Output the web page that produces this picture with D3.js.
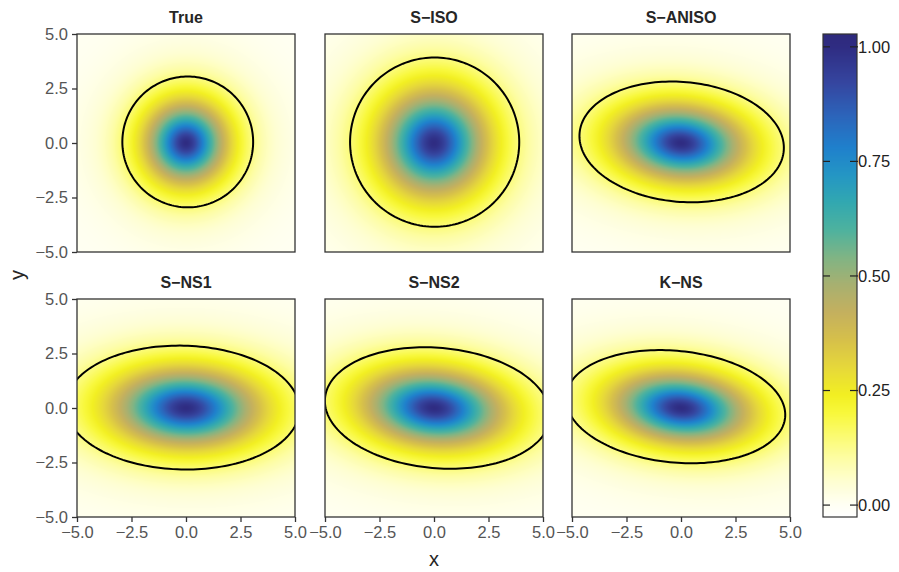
<!DOCTYPE html>
<html>
<head>
<meta charset="utf-8">
<script src="https://cdn.jsdelivr.net/npm/d3@7"></script>
<style>
body { margin: 0; background: #fff; }
svg { display: block; font-family: "Liberation Sans", Arial, sans-serif; }
</style>
</head>
<body>
<svg id="chart" width="899" height="572"></svg>
<script>
// panel titles
var titles = ["True", "S\u2212ISO", "S\u2212ANISO", "S\u2212NS1", "S\u2212NS2", "K\u2212NS"];
// kernel field (Matern 3/2 look): length scale along long / short axis, rotation in degrees
var lenLong = [1.51, 1.95, 2.37, 2.70, 2.61, 2.54];
var lenShort = [1.51, 1.95, 1.38, 1.43, 1.39, 1.29];
var fieldAngle = [0, 0, -5, -1.3, -5, -5.7];
// black contour: semi axes, rotation, centre
var ellA = [3.0, 3.88, 4.7, 5.36, 5.18, 5.05];
var ellB = [3.0, 3.88, 2.75, 2.84, 2.76, 2.56];
var ellAngle = [0, 0, -5, -1.3, -5, -5.7];
var ellCx = [0.08, 0.03, 0.03, -0.16, 0.16, -0.25];
var ellCy = [0.05, 0.04, 0.05, 0.02, 0.0, 0.06];
var axisTicks = [-5, -2.5, 0, 2.5, 5];
var cbarTicks = [0, 0.25, 0.5, 0.75, 1.0];
var cbarDomain = [-0.026, 1.028];
// colormap
var cmapStops = [-0.026, 0, 0.05, 0.1, 0.15, 0.2, 0.24, 0.3, 0.36, 0.42, 0.48, 0.54, 0.6, 0.66, 0.72, 0.78, 0.85, 0.92, 1.0, 1.028];
var cmapColors = ["#ffffff", "#fffff4", "#fefed2", "#fdfda6", "#fbfb72", "#f8f83c", "#f2ef22", "#e6d83a", "#d6c04a",
    "#c4b05e", "#a8b070", "#80b484", "#4eb29e", "#32a8b0", "#2496c4", "#1f80cc", "#2c64ba", "#3546a0", "#2f2c82", "#2e2a7c"];

var size = 218;
var colX = [77, 325, 572];
var rowY = [34, 299];

var svg = d3.select("#chart");
var color = d3.scaleLinear().domain(cmapStops).range(cmapColors).interpolate(d3.interpolateRgb).clamp(true);

var x = d3.scaleLinear().domain([-5, 5]).range([0, size]);
var y = d3.scaleLinear().domain([-5, 5]).range([size, 0]);
var fmt = d3.format(".1f");

var defs = svg.append("defs");
defs.append("clipPath").attr("id", "panelclip")
    .append("rect").attr("width", size).attr("height", size);

titles.forEach(function (t, k) {
    var col = k % 3, row = Math.floor(k / 3);
    var g = svg.append("g").attr("transform", "translate(" + colX[col] + "," + rowY[row] + ")");

    // heatmap into an offscreen canvas
    var canvas = document.createElement("canvas");
    canvas.width = size; canvas.height = size;
    var ctx = canvas.getContext("2d");
    var img = ctx.createImageData(size, size);
    var th = fieldAngle[k] * Math.PI / 180, c = Math.cos(th), s = Math.sin(th);
    for (var j = 0; j < size; j++) {
        var yy = y.invert(j + 0.5);
        for (var i = 0; i < size; i++) {
            var xx = x.invert(i + 0.5);
            var u = (xx * c + yy * s) / lenLong[k], w = (-xx * s + yy * c) / lenShort[k];
            var z = Math.sqrt(3 * (u * u + w * w));
            var v = (1 + z) * Math.exp(-z);
            var rgb = d3.rgb(color(v));
            var p = (j * size + i) * 4;
            img.data[p] = rgb.r; img.data[p + 1] = rgb.g; img.data[p + 2] = rgb.b; img.data[p + 3] = 255;
        }
    }
    ctx.putImageData(img, 0, 0);
    g.append("image").attr("width", size).attr("height", size)
        .attr("href", canvas.toDataURL());

    // contour
    var ea = ellAngle[k] * Math.PI / 180;
    var pts = d3.range(0, 361, 2).map(function (d) {
        var t = d * Math.PI / 180;
        var px = ellA[k] * Math.cos(t), py = ellB[k] * Math.sin(t);
        return [ellCx[k] + px * Math.cos(ea) - py * Math.sin(ea), ellCy[k] + px * Math.sin(ea) + py * Math.cos(ea)];
    });
    g.append("path").attr("clip-path", "url(#panelclip)")
        .attr("d", d3.line().x(function (d) { return x(d[0]); }).y(function (d) { return y(d[1]); }).curve(d3.curveLinearClosed)(pts))
        .attr("fill", "none").attr("stroke", "#000").attr("stroke-width", 2);

    g.append("rect").attr("width", size).attr("height", size)
        .attr("fill", "none").attr("stroke", "#333").attr("stroke-width", 1.3);

    g.append("text").attr("x", size / 2).attr("y", -11).attr("text-anchor", "middle")
        .attr("font-weight", "bold").attr("font-size", 16).attr("fill", "#262626").text(t);

    if (col === 0) {
        var ya = g.append("g").call(d3.axisLeft(y).tickValues(axisTicks).tickFormat(fmt).tickSize(5).tickPadding(4));
        ya.select(".domain").remove();
        ya.selectAll("line").attr("stroke", "#333").attr("stroke-width", 1.3);
        ya.selectAll("text").attr("font-size", 16.5).attr("fill", "#555").attr("font-family", null);
    }
    if (row === 1) {
        var xa = g.append("g").attr("transform", "translate(0," + size + ")")
            .call(d3.axisBottom(x).tickValues(axisTicks).tickFormat(fmt).tickSize(5).tickPadding(4));
        xa.select(".domain").remove();
        xa.selectAll("line").attr("stroke", "#333").attr("stroke-width", 1.3);
        xa.selectAll("text").attr("font-size", 16.5).attr("fill", "#555").attr("font-family", null);
    }
});

svg.append("text").attr("x", 434).attr("y", 566).attr("text-anchor", "middle")
    .attr("font-size", 20).attr("fill", "#262626").text("x");
svg.append("text").attr("transform", "translate(24,275) rotate(-90)").attr("text-anchor", "middle")
    .attr("font-size", 20).attr("fill", "#262626").text("y");

// colorbar
var cbX = 823, cbW = 34;
var cb = d3.scaleLinear().domain(cbarDomain).range([517, 34]);
var cbg = svg.append("g");
cbg.selectAll("rect.cell").data(d3.range(34, 517)).join("rect").attr("class", "cell")
    .attr("x", cbX).attr("y", function (d) { return d; }).attr("width", cbW).attr("height", 1.2)
    .attr("fill", function (d) { return color(cb.invert(d + 0.5)); });
cbg.append("rect").attr("x", cbX).attr("y", 34).attr("width", cbW).attr("height", 483)
    .attr("fill", "none").attr("stroke", "#333").attr("stroke-width", 1.2);
cbarTicks.forEach(function (v) {
    var yy = cb(v);
    cbg.append("line").attr("x1", cbX).attr("x2", cbX + 7).attr("y1", yy).attr("y2", yy)
        .attr("stroke", "#222").attr("stroke-width", 1.2);
    cbg.append("line").attr("x1", cbX + cbW - 7).attr("x2", cbX + cbW + 1).attr("y1", yy).attr("y2", yy)
        .attr("stroke", "#222").attr("stroke-width", 1.2);
    cbg.append("text").attr("x", cbX + cbW + 1).attr("y", yy).attr("dy", "0.35em")
        .attr("font-size", 16.5).attr("fill", "#222").text(d3.format(".2f")(v));
});
</script>
</body>
</html>
